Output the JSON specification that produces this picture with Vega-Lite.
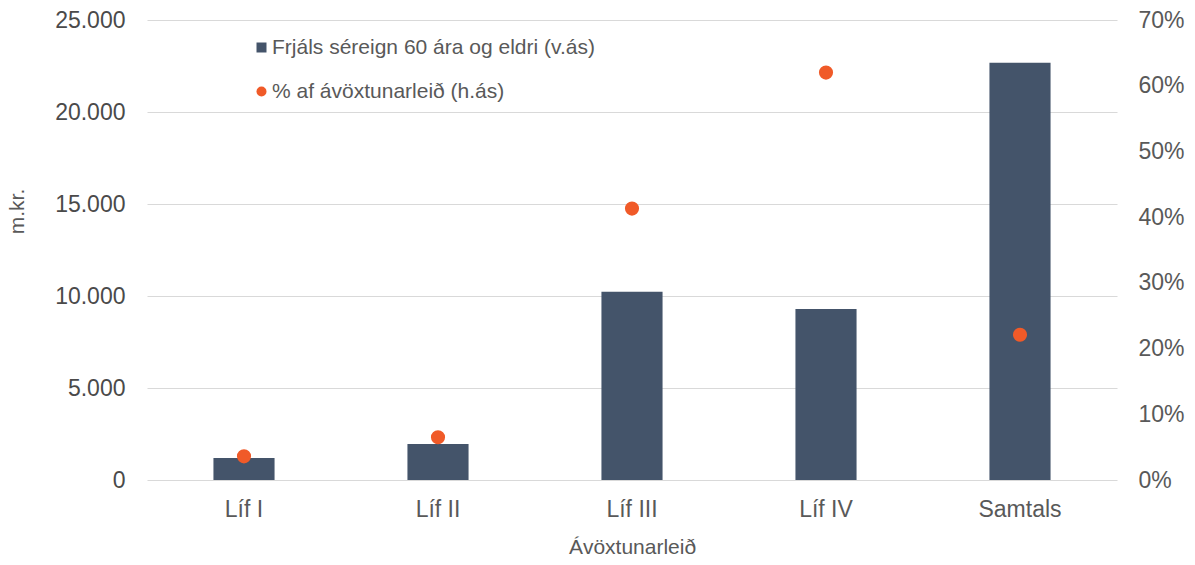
{
  "$schema": "https://vega.github.io/schema/vega-lite/v6.json",
  "width": 970,
  "height": 460,
  "autosize": {"type": "none"},
  "padding": {"left": 147, "top": 20, "right": 78, "bottom": 85},
  "background": "white",
  "config": {
    "view": {"stroke": null},
    "font": "Liberation Sans",
    "axis": {"labelFont": "Liberation Sans", "titleFont": "Liberation Sans"}
  },
  "data": {"values": [
    {"cat": "Líf I", "value": 1200, "pct": 0.036},
    {"cat": "Líf II", "value": 1950, "pct": 0.065},
    {"cat": "Líf III", "value": 10230, "pct": 0.413},
    {"cat": "Líf IV", "value": 9290, "pct": 0.620},
    {"cat": "Samtals", "value": 22680, "pct": 0.221}
  ]},
  "encoding": {
    "x": {
      "field": "cat", "type": "nominal", "sort": null,
      "scale": {"paddingInner": 0.685, "paddingOuter": 0.3425},
      "axis": {
        "title": "Ávöxtunarleið", "labelAngle": 0, "labelFontSize": 23, "labelColor": "#595959",
        "labelPadding": 18, "ticks": false, "domain": false,
        "titleFontSize": 21, "titleColor": "#595959", "titleFontWeight": "normal", "titlePadding": 15
      }
    }
  },
  "layer": [
    {
      "mark": {"type": "bar", "color": "#44546A"},
      "encoding": {
        "y": {
          "field": "value", "type": "quantitative",
          "scale": {"domain": [0, 25000]},
          "axis": {
            "title": "m.kr.", "values": [0, 5000, 10000, 15000, 20000, 25000],
            "labelExpr": "replace(format(datum.value, ',d'), ',', '.')",
            "labelFontSize": 23, "labelColor": "#4A4A4A", "labelPadding": 22,
            "ticks": false, "domain": false,
            "gridColor": "#D9D9D9", "gridWidth": 1.2,
            "titleFontSize": 21, "titleColor": "#595959", "titleFontWeight": "normal",
            "titleX": -130, "titleY": 191, "titleAlign": "center", "titleBaseline": "middle", "titleAngle": -90
          }
        },
        "color": {
          "datum": "Frjáls séreign 60 ára og eldri (v.ás)",
          "scale": {
            "domain": ["Frjáls séreign 60 ára og eldri (v.ás)", "% af ávöxtunarleið (h.ás)"],
            "range": ["#44546A", "#F05A28"]
          },
          "legend": {
            "title": null, "orient": "none", "legendX": 104, "legendY": 17,
            "labelFontSize": 21, "labelColor": "#595959", "labelOffset": 0, "labelLimit": 0,
            "symbolSize": 100, "rowPadding": 22, "symbolStrokeWidth": 0,
            "encode": {
              "symbols": {"update": {"shape": {"signal": "datum.label === '% af ávöxtunarleið (h.ás)' ? 'circle' : 'square'"}}}
            }
          }
        }
      }
    },
    {
      "mark": {"type": "point", "filled": true, "size": 200, "opacity": 1},
      "encoding": {
        "y": {
          "field": "pct", "type": "quantitative",
          "scale": {"domain": [0, 0.7]},
          "axis": {
            "orient": "right", "title": null, "format": ".0%",
            "values": [0, 0.1, 0.2, 0.3, 0.4, 0.5, 0.6, 0.7],
            "labelFontSize": 23, "labelColor": "#595959", "labelPadding": 21,
            "ticks": false, "domain": false, "grid": false
          }
        },
        "color": {"datum": "% af ávöxtunarleið (h.ás)"}
      }
    }
  ],
  "resolve": {"scale": {"y": "independent"}}
}
